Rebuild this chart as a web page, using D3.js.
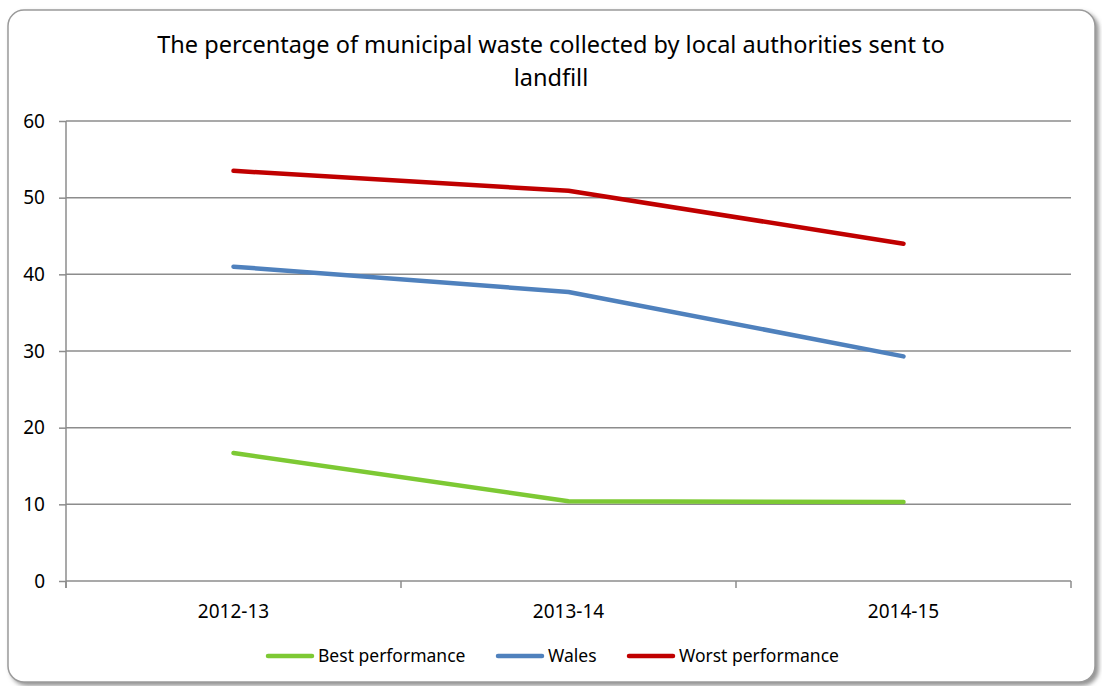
<!DOCTYPE html>
<html>
<head>
<meta charset="utf-8">
<script src="https://cdn.jsdelivr.net/npm/d3@7"></script>
<style>
  body { margin: 0; background: #fff; }
  svg { display: block; font-family: "Noto Sans", sans-serif; }
</style>
</head>
<body>
<div id="chart"></div>
<script>
// Data
const years = ["2012-13", "2013-14", "2014-15"];
const bestPerformance = [16.7, 10.4, 10.3];
const wales = [41.0, 37.7, 29.3];
const worstPerformance = [53.5, 50.9, 44.0];
const yTicks = [0, 10, 20, 30, 40, 50, 60];

const seriesNames = ["Best performance", "Wales", "Worst performance"];
const seriesColors = ["#7dc934", "#4f81bd", "#c00000"];
const series = [bestPerformance, wales, worstPerformance];

const W = 1102, H = 686;
const plot = {left: 66, right: 1071, top: 121, bottom: 581};

const svg = d3.select("#chart")
  .append("svg")
    .attr("width", W)
    .attr("height", H);

// Drop shadow for the frame
const defs = svg.append("defs");
const shadow = defs.append("filter")
  .attr("id", "shadow")
  .attr("x", "-5%").attr("y", "-5%")
  .attr("width", "110%").attr("height", "110%");
shadow.append("feDropShadow")
  .attr("dx", 3).attr("dy", 3)
  .attr("stdDeviation", 2)
  .attr("flood-color", "#777")
  .attr("flood-opacity", 0.8);

svg.append("rect")
  .attr("x", 8).attr("y", 10)
  .attr("width", 1087).attr("height", 672)
  .attr("rx", 16).attr("ry", 16)
  .attr("fill", "#fff")
  .attr("stroke", "#9a9a9a")
  .attr("stroke-width", 1.5)
  .attr("filter", "url(#shadow)");

// Title
const title = svg.append("text")
  .attr("text-anchor", "middle")
  .attr("font-size", 23.5)
  .attr("fill", "#000");
title.append("tspan").attr("x", 551).attr("y", 53)
  .text("The percentage of municipal waste collected by local authorities sent to");
title.append("tspan").attr("x", 551).attr("y", 86)
  .text("landfill");

// Scales
const x = d3.scaleBand()
  .domain(years)
  .range([plot.left, plot.right])
  .padding(0);
const y = d3.scaleLinear()
  .domain([0, 60])
  .range([plot.bottom, plot.top]);

// Gridlines
svg.append("g")
  .selectAll("line")
  .data(yTicks)
  .join("line")
    .attr("x1", plot.left)
    .attr("x2", plot.right)
    .attr("y1", d => y(d))
    .attr("y2", d => y(d))
    .attr("stroke", "#8c8c8c")
    .attr("stroke-width", 1.5);

// Y axis
const gy = svg.append("g")
  .attr("transform", `translate(${plot.left},0)`)
  .call(d3.axisLeft(y).tickValues(yTicks).tickSize(7).tickPadding(14));
gy.select(".domain").remove();
gy.append("line")
  .attr("y1", plot.top).attr("y2", plot.bottom + 7)
  .attr("stroke", "#8c8c8c").attr("stroke-width", 1.5);
gy.selectAll(".tick line").attr("stroke", "#8c8c8c").attr("stroke-width", 1.5);
gy.selectAll(".tick text")
  .attr("font-size", 19)
  .attr("font-family", "Noto Sans")
  .attr("fill", "#000");

// X axis: ticks at band boundaries, labels at centres
const gx = svg.append("g");
const boundaries = years.map(d => x(d)).concat([x(years[years.length - 1]) + x.bandwidth()]);
gx.selectAll("line")
  .data(boundaries)
  .join("line")
    .attr("x1", d => d).attr("x2", d => d)
    .attr("y1", plot.bottom).attr("y2", plot.bottom + 7)
    .attr("stroke", "#8c8c8c").attr("stroke-width", 1.5);
gx.selectAll("text")
  .data(years)
  .join("text")
    .attr("x", d => x(d) + x.bandwidth() / 2)
    .attr("y", 618)
    .attr("text-anchor", "middle")
    .attr("font-size", 19)
    .text(d => d);

// Lines
const line = d3.line()
  .x((d, i) => x(years[i]) + x.bandwidth() / 2)
  .y(d => y(d));

svg.append("g")
  .selectAll("path")
  .data(series)
  .join("path")
    .attr("d", line)
    .attr("fill", "none")
    .attr("stroke", (d, i) => seriesColors[i])
    .attr("stroke-width", 4.5)
    .attr("stroke-linejoin", "round")
    .attr("stroke-linecap", "round");

// Legend
const legendX = [268, 498, 629];
const legend = svg.append("g")
  .selectAll("g")
  .data(seriesNames)
  .join("g")
    .attr("transform", (d, i) => `translate(${legendX[i]},656)`);
legend.append("line")
  .attr("x1", 0).attr("x2", 44)
  .attr("stroke", (d, i) => seriesColors[i])
  .attr("stroke-width", 4.5)
  .attr("stroke-linecap", "round");
legend.append("text")
  .attr("x", 50)
  .attr("dy", "0.35em")
  .attr("font-size", 17.5)
  .text(d => d);
</script>
</body>
</html>
